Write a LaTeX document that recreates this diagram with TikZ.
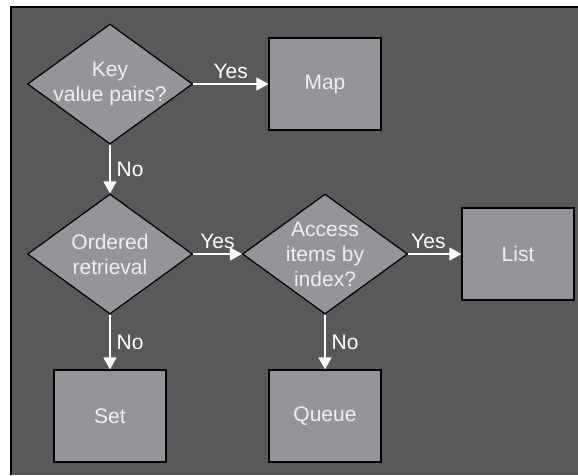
\documentclass[tikz,border=0pt]{standalone}
\usepackage{fontspec}
\setmainfont{Liberation Sans}
\usepackage{tikz}
\usetikzlibrary{
  shapes.geometric,
  arrows.meta,
  positioning
}
\definecolor{bggray}{RGB}{88,89,91}
\definecolor{boxgray}{RGB}{147,149,152}
\definecolor{txtwhite}{RGB}{240,240,240}
\tikzset{
  choice/.style={
    diamond, draw=black, line width=1.2pt, fill=boxgray,
    minimum width=165pt, minimum height=120pt, inner sep=-3pt,
    aspect=1.375, align=center, text=txtwhite,
    font=\fontsize{21}{25}\selectfont
  },
  result/.style={
    rectangle, draw=black, line width=1.2pt, fill=boxgray,
    minimum width=112pt, minimum height=92pt,
    text=txtwhite, font=\fontsize{21}{25}\selectfont
  },
  flow/.style={-{Triangle[length=12pt,width=13pt]}, line width=1.3pt, white},
  answer/.style={font=\fontsize{21}{25}\selectfont, white, inner sep=5pt}
}

\begin{document}
\begin{tikzpicture}[x=1pt,y=1pt]
\useasboundingbox (0,0) rectangle (578,-475);
\fill[bggray] (11,-7) rectangle (578,-475);
\draw[black, line width=1.5pt] (11,-475) |- (578,-7);

\node[choice] (keyval)  at (110,-84)  {Key\\value pairs?};
\node[choice] (ordered) at (110,-254) {Ordered\\retrieval};
\node[choice] (access)  at (325,-254) {Access\\items by\\index?};
\node[result] (map)     at (325,-84)  {Map};
\node[result] (list)    at (518,-254) {List};
\node[result] (set)     at (110,-416) {Set};
\node[result] (queue)   at (325,-416) {Queue};

\draw[flow] (keyval)  -- node[answer,above]{Yes} (map);
\draw[flow] (keyval)  -- node[answer,right,inner sep=6pt]{No} (ordered);
\draw[flow] (ordered) -- node[answer,above]{Yes} (access);
\draw[flow] (ordered) -- node[answer,right,inner sep=6pt]{No} (set);
\draw[flow] (access)  -- node[answer,above,pos=0.38]{Yes} (list);
\draw[flow] (access)  -- node[answer,right,inner sep=6pt]{No} (queue);
\end{tikzpicture}
\end{document}
